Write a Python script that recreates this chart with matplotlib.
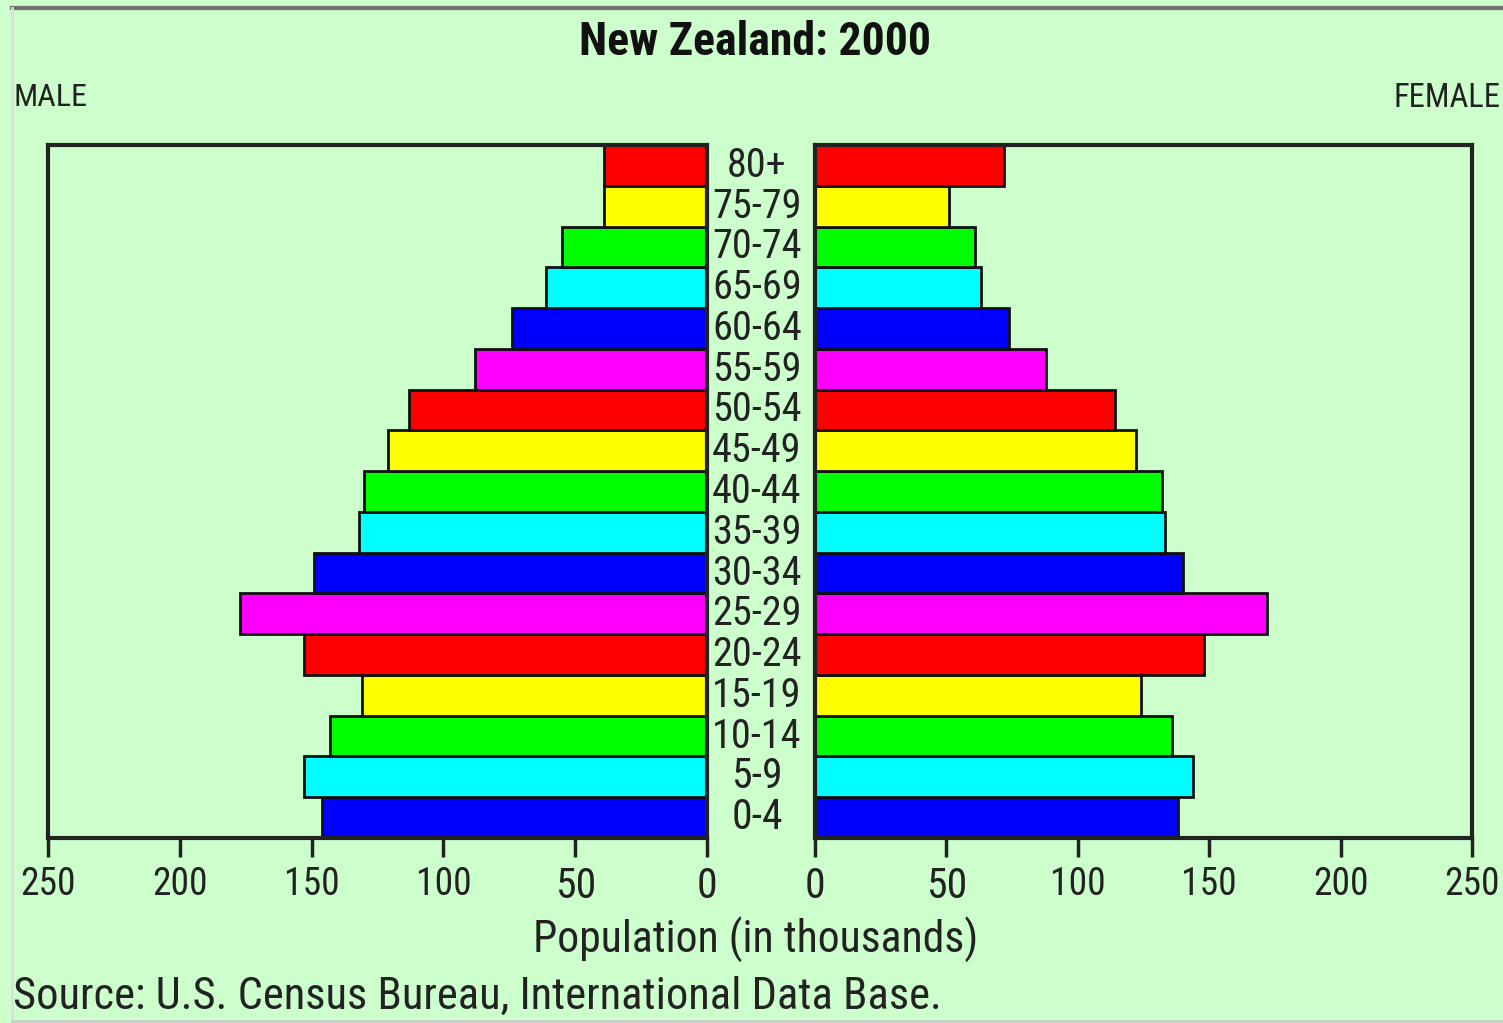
import matplotlib
matplotlib.use("Agg")
import matplotlib.pyplot as plt
from matplotlib.lines import Line2D
from matplotlib import font_manager

age_groups = ["0-4", "5-9", "10-14", "15-19", "20-24", "25-29", "30-34", "35-39",
              "40-44", "45-49", "50-54", "55-59", "60-64", "65-69", "70-74", "75-79", "80+"]
male = [146, 153, 143, 131, 153, 177, 149, 132, 130, 121, 113, 88, 74, 61, 55, 39, 39]
female = [138, 144, 136, 124, 148, 172, 140, 133, 132, 122, 114, 88, 74, 63, 61, 51, 72]
bar_colors = ["#0000FF", "#00FFFF", "#00FF00", "#FFFF00", "#FF0000", "#FF00FF"]
ticks = [0, 50, 100, 150, 200, 250]

BG = "#CCFFCC"
names = {f.name for f in font_manager.fontManager.ttflist}
FONT = [n for n in ["Roboto Condensed", "Liberation Sans Narrow", "Roboto", "DejaVu Sans"] if n in names]

W, H = 1503, 1023
fig = plt.figure(figsize=(W / 100, H / 100), dpi=100, facecolor=BG)
renderer = fig.canvas.get_renderer()

def fx(px):
    return px / W

def fy(py):
    return 1 - py / H

def fit(t, width_px, max_size):
    """shrink font until the text is at most width_px wide"""
    size = max_size
    t.set_fontsize(size)
    while size > 6:
        bb = t.get_window_extent(renderer)
        if bb.width <= width_px:
            break
        size -= 0.5
        t.set_fontsize(size)
    return t

bottom, top = fy(838), fy(145)
axL = fig.add_axes([fx(48), bottom, fx(707) - fx(48), top - bottom], facecolor=BG)
axR = fig.add_axes([fx(815), bottom, fx(1472) - fx(815), top - bottom], facecolor=BG)

colors = [bar_colors[i % len(bar_colors)] for i in range(len(age_groups))]
y = list(range(len(age_groups)))

axL.barh(y, male, height=1.0, color=colors, edgecolor="#111111", linewidth=2)
axR.barh(y, female, height=1.0, color=colors, edgecolor="#111111", linewidth=2)

axL.set_xlim(250, 0)
axR.set_xlim(0, 250)
for ax in (axL, axR):
    ax.set_ylim(-0.5, len(age_groups) - 0.5)
    ax.set_yticks([])
    ax.set_xticks(ticks)
    labs = ax.set_xticklabels([str(t) for t in ticks], fontfamily=FONT, color="#222222")
    for l in labs:
        fit(l, 56, 30)
    ax.tick_params(axis="x", direction="out", length=14, width=2.5, color="#222222", pad=6)
    for s in ax.spines.values():
        s.set_color("#222222")
        s.set_linewidth(3)

# age labels between the panels
xc = fx(757)
for i, lab in enumerate(age_groups):
    yy = bottom + (i + 0.5) / len(age_groups) * (top - bottom)
    t = fig.text(xc, yy, lab, ha="center", va="center", fontfamily=FONT, color="#222222")
    fit(t, 90 if len(lab) == 5 else 60, 30)

t = fig.text(fx(755), fy(42), "New Zealand: 2000", ha="center", va="center",
             fontfamily=FONT, fontweight="bold", color="#111111")
fit(t, 356, 36)
t = fig.text(fx(13), fy(98), "MALE", ha="left", va="center", fontfamily=FONT, color="#222222")
fit(t, 74, 30)
t = fig.text(fx(1500), fy(98), "FEMALE", ha="right", va="center", fontfamily=FONT, color="#222222")
fit(t, 108, 30)
t = fig.text(fx(756), fy(940), "Population (in thousands)", ha="center", va="center",
             fontfamily=FONT, color="#222222")
fit(t, 452, 34)
t = fig.text(fx(13), fy(997), "Source: U.S. Census Bureau, International Data Base.", ha="left",
             va="center", fontfamily=FONT, color="#222222")
fit(t, 935, 34)

# frame lines of the original image
fig.add_artist(Line2D([fx(12), 1], [fy(8), fy(8)], color="#707070", lw=3, transform=fig.transFigure))
fig.add_artist(Line2D([fx(12), fx(12)], [fy(8), fy(1020)], color="#DDDDDD", lw=2, transform=fig.transFigure))
fig.add_artist(Line2D([fx(12), 1], [fy(1021), fy(1021)], color="#CCCCCC", lw=2, transform=fig.transFigure))

fig.savefig("out.png", dpi=100, facecolor=BG)
